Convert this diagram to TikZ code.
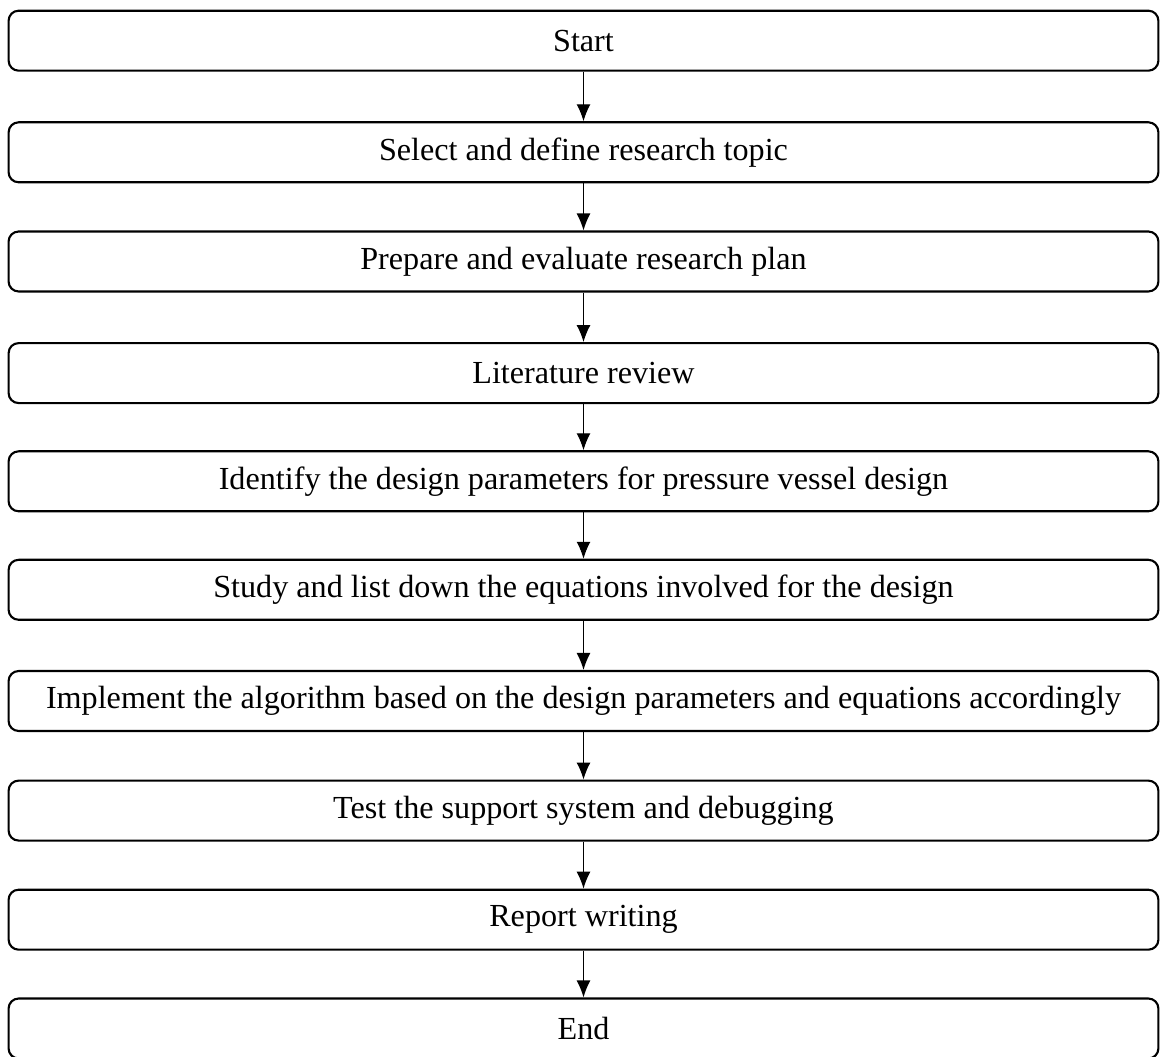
\documentclass[tikz,border=0pt]{standalone}
\usepackage{fontspec}
\setmainfont{Liberation Serif}
\usetikzlibrary{arrows.meta}
\begin{document}
\begin{tikzpicture}[x=0.02cm, y=-0.02cm, minimum height=1.2cm, minimum width=23cm, align=center,
	stage/.style={draw, rounded corners=0.2cm, line width=1.2pt, inner sep=0pt, font=\fontsize{18.3}{22}\selectfont},
	flow/.style={-{Latex[length=0.34cm, width=0.28cm]}, line width=0.7pt}]
	\useasboundingbox (0,0) rectangle (1161,1057);
	\node[stage] (start) at (583.5,40.7) {Start};
	\node[stage] (topic) at (583.5,152.3) {Select and define research topic};
	\node[stage] (plan) at (583.5,261.5) {Prepare and evaluate research plan};
	\node[stage] (litrev) at (583.5,373.1) {Literature review};
	\node[stage] (params) at (583.5,481.3) {Identify the design parameters for pressure vessel design};
	\node[stage] (equations) at (583.5,589.8) {Study and list down the equations involved for the design};
	\node[stage] (algorithm) at (583.5,701) {Implement the algorithm based on the design parameters and equations accordingly};
	\node[stage] (testing) at (583.5,810.6) {Test the support system and debugging};
	\node[stage] (report) at (583.5,919.7) {Report writing};
	\node[stage] (finish) at (583.5,1028.5) {End};
	%%%%%%%%%%%%%
	\draw[flow] (start) -- (topic);
	\draw[flow] (topic) -- (plan);
	\draw[flow] (plan) -- (litrev);
	\draw[flow] (litrev) -- (params);
	\draw[flow] (params) -- (equations);
	\draw[flow] (equations) -- (algorithm);
	\draw[flow] (algorithm) -- (testing);
	\draw[flow] (testing) -- (report);
	\draw[flow] (report) -- (finish);
\end{tikzpicture}
\end{document}
